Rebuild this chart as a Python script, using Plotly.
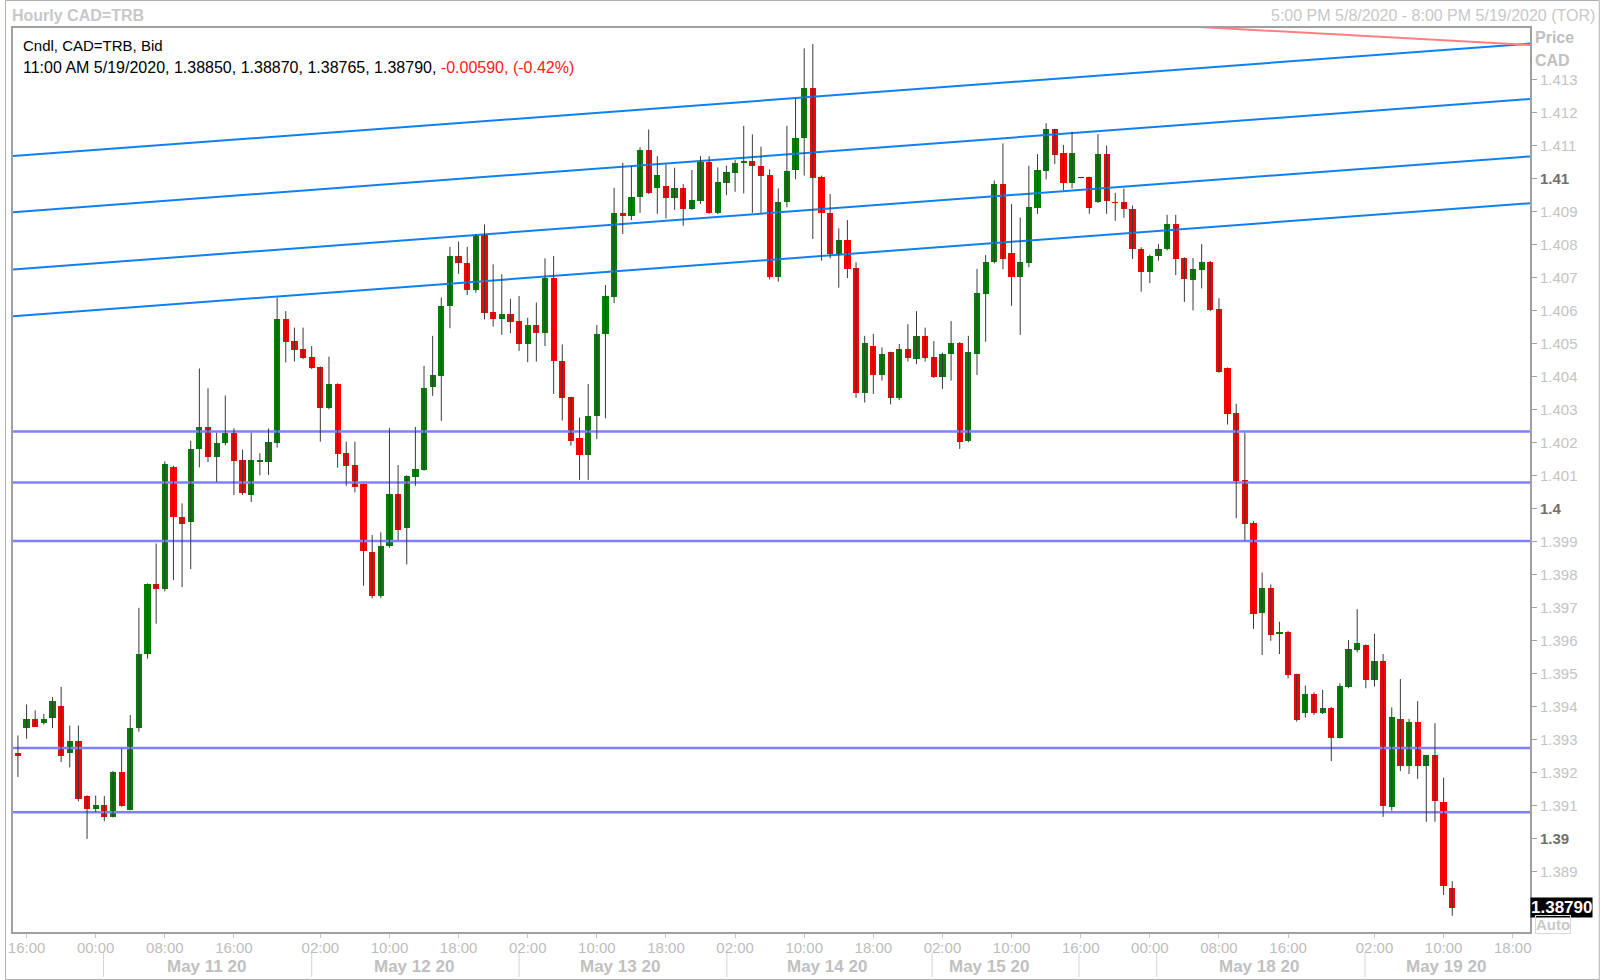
import plotly.graph_objects as go

# ---------------- data (hourly CAD=TRB candles, index = hourly slot, weekend gap removed) -------------
opens = [1.39258, 1.39334, 1.39361, 1.39350, 1.39366, 1.39402, 1.39258, 1.39296, 1.39128, 1.39090,
         1.39101, 1.39066, 1.39201, 1.39087, 1.39334, 1.39559, 1.39770, 1.39756, 1.40127, 1.39976,
         1.39960, 1.40181, 1.40247, 1.40157, 1.40200, 1.40230, 1.40146, 1.40041, 1.40141, 1.40142,
         1.40200, 1.40575, 1.40508, 1.40483, 1.40461, 1.40429, 1.40306, 1.40378, 1.40168, 1.40133,
         1.40074, 1.39867, 1.39735, 1.39887, 1.40044, 1.39940, 1.40097, 1.40117, 1.40370, 1.40403,
         1.40615, 1.40766, 1.40746, 1.40663, 1.40830, 1.40595, 1.40575, 1.40589, 1.40569, 1.40498,
         1.40557, 1.40532, 1.40700, 1.40448, 1.40337, 1.40213, 1.40163, 1.40282, 1.40529, 1.40643,
         1.40897, 1.40888, 1.40944, 1.41088, 1.40971, 1.40979, 1.40943, 1.40973, 1.40909, 1.40934,
         1.41050, 1.40897, 1.40989, 1.41019, 1.41047, 1.41054, 1.41040, 1.41012, 1.40703, 1.40929,
         1.41027, 1.41124, 1.41275, 1.41006, 1.40896, 1.40772, 1.40815, 1.40729, 1.40352, 1.40494,
         1.40405, 1.40474, 1.40336, 1.40483, 1.40453, 1.40524, 1.40459, 1.40398, 1.40468, 1.40503,
         1.40206, 1.40468, 1.40651, 1.40747, 1.40985, 1.40774, 1.40702, 1.40746, 1.40913, 1.41024,
         1.41150, 1.41080, 1.40988, 1.41004, 1.41005, 1.40929, 1.41075, 1.40930, 1.40930, 1.40909,
         1.40788, 1.40718, 1.40765, 1.40786, 1.40864, 1.40760, 1.40692, 1.40724, 1.40749, 1.40605,
         1.40426, 1.40290, 1.40086, 1.39955, 1.39682, 1.39758, 1.39619, 1.39627, 1.39497, 1.39379,
         1.39437, 1.39379, 1.39396, 1.39305, 1.39460, 1.39571, 1.39586, 1.39480, 1.39538, 1.39094,
         1.39362, 1.39220, 1.39354, 1.39220, 1.39253, 1.39111, 1.38850]
highs = [1.39312, 1.39406, 1.39388, 1.39377, 1.39428, 1.39459, 1.39342, 1.39342, 1.39130, 1.39130,
         1.39128, 1.39204, 1.39272, 1.39374, 1.39699, 1.39773, 1.39894, 1.40143, 1.40130, 1.40016,
         1.40206, 1.40425, 1.40365, 1.40230, 1.40343, 1.40244, 1.40179, 1.40230, 1.40168, 1.40243,
         1.40640, 1.40599, 1.40549, 1.40549, 1.40493, 1.40431, 1.40461, 1.40380, 1.40203, 1.40203,
         1.40076, 1.39920, 1.39928, 1.40244, 1.40132, 1.40101, 1.40248, 1.40433, 1.40524, 1.40640,
         1.40794, 1.40810, 1.40794, 1.40833, 1.40862, 1.40741, 1.40711, 1.40636, 1.40645, 1.40579,
         1.40625, 1.40759, 1.40766, 1.40498, 1.40339, 1.40276, 1.40378, 1.40557, 1.40678, 1.40973,
         1.41049, 1.41039, 1.41096, 1.41150, 1.41069, 1.41044, 1.41034, 1.40984, 1.41027, 1.41069,
         1.41069, 1.41035, 1.41040, 1.41057, 1.41161, 1.41135, 1.41098, 1.41029, 1.40971, 1.41161,
         1.41244, 1.41396, 1.41409, 1.41010, 1.40954, 1.40850, 1.40875, 1.40747, 1.40524, 1.40530,
         1.40489, 1.40476, 1.40499, 1.40559, 1.40599, 1.40549, 1.40508, 1.40473, 1.40569, 1.40505,
         1.40524, 1.40727, 1.40769, 1.40995, 1.41108, 1.40924, 1.40883, 1.41040, 1.41075, 1.41169,
         1.41152, 1.41103, 1.41143, 1.41006, 1.41007, 1.41136, 1.41101, 1.40958, 1.40971, 1.40919,
         1.40793, 1.40770, 1.40802, 1.40891, 1.40891, 1.40762, 1.40760, 1.40802, 1.40751, 1.40638,
         1.40428, 1.40318, 1.40230, 1.39962, 1.39806, 1.39770, 1.39657, 1.39629, 1.39499, 1.39463,
         1.39443, 1.39450, 1.39398, 1.39470, 1.39601, 1.39695, 1.39588, 1.39620, 1.39559, 1.39397,
         1.39483, 1.39362, 1.39416, 1.39253, 1.39349, 1.39184, 1.38870]
lows = [1.39186, 1.39302, 1.39339, 1.39345, 1.39334, 1.39231, 1.39215, 1.39112, 1.38998, 1.39079,
        1.39052, 1.39063, 1.39096, 1.39085, 1.39323, 1.39545, 1.39651, 1.39749, 1.39783, 1.39762,
        1.39816, 1.40125, 1.40141, 1.40081, 1.40192, 1.40041, 1.40041, 1.40020, 1.40101, 1.40102,
        1.40185, 1.40443, 1.40446, 1.40453, 1.40423, 1.40203, 1.40301, 1.40124, 1.40069, 1.40049,
        1.39766, 1.39728, 1.39728, 1.39881, 1.39905, 1.39831, 1.40069, 1.40115, 1.40342, 1.40266,
        1.40547, 1.40712, 1.40648, 1.40655, 1.40574, 1.40552, 1.40527, 1.40532, 1.40478, 1.40444,
        1.40446, 1.40493, 1.40348, 1.40267, 1.40191, 1.40087, 1.40087, 1.40211, 1.40274, 1.40623,
        1.40833, 1.40875, 1.40897, 1.40954, 1.40894, 1.40880, 1.40906, 1.40858, 1.40906, 1.40924,
        1.40894, 1.40893, 1.40951, 1.40961, 1.40956, 1.40897, 1.40897, 1.40695, 1.40688, 1.40914,
        1.40999, 1.41010, 1.40818, 1.40752, 1.40759, 1.40670, 1.40699, 1.40336, 1.40322, 1.40348,
        1.40388, 1.40316, 1.40329, 1.40446, 1.40438, 1.40446, 1.40396, 1.40363, 1.40388, 1.40181,
        1.40201, 1.40405, 1.40506, 1.40744, 1.40726, 1.40615, 1.40527, 1.40732, 1.40894, 1.40998,
        1.41045, 1.40966, 1.40971, 1.41002, 1.40894, 1.40927, 1.40894, 1.40873, 1.40882, 1.40757,
        1.40658, 1.40684, 1.40752, 1.40783, 1.40708, 1.40627, 1.40601, 1.40668, 1.40599, 1.40412,
        1.40255, 1.39971, 1.39904, 1.39635, 1.39556, 1.39599, 1.39559, 1.39485, 1.39354, 1.39366,
        1.39374, 1.39377, 1.39234, 1.39303, 1.39455, 1.39564, 1.39455, 1.39460, 1.39065, 1.39084,
        1.39204, 1.39195, 1.39180, 1.39050, 1.39050, 1.38828, 1.38765]
closes = [1.39249, 1.39361, 1.39339, 1.39361, 1.39415, 1.39249, 1.39296, 1.39120, 1.39090, 1.39101,
          1.39066, 1.39201, 1.39099, 1.39336, 1.39558, 1.39770, 1.39756, 1.40134, 1.39975, 1.39954,
          1.40182, 1.40247, 1.40157, 1.40200, 1.40230, 1.40144, 1.40047, 1.40146, 1.40146, 1.40203,
          1.40575, 1.40506, 1.40481, 1.40458, 1.40426, 1.40306, 1.40378, 1.40165, 1.40130, 1.40066,
          1.39871, 1.39735, 1.39887, 1.40044, 1.39935, 1.40099, 1.40119, 1.40365, 1.40405, 1.40615,
          1.40766, 1.40744, 1.40663, 1.40830, 1.40594, 1.40575, 1.40589, 1.40567, 1.40498, 1.40557,
          1.40532, 1.40700, 1.40448, 1.40336, 1.40206, 1.40163, 1.40282, 1.40530, 1.40645, 1.40897,
          1.40888, 1.40946, 1.41088, 1.40956, 1.41012, 1.40943, 1.40973, 1.40909, 1.40936, 1.41050,
          1.40897, 1.40991, 1.41020, 1.41049, 1.41054, 1.41039, 1.41010, 1.40702, 1.40929, 1.41025,
          1.41125, 1.41275, 1.41004, 1.40896, 1.40772, 1.40815, 1.40727, 1.40352, 1.40503, 1.40405,
          1.40468, 1.40336, 1.40483, 1.40458, 1.40524, 1.40458, 1.40398, 1.40468, 1.40503, 1.40201,
          1.40474, 1.40653, 1.40747, 1.40985, 1.40757, 1.40703, 1.40749, 1.40914, 1.41026, 1.41150,
          1.41073, 1.40988, 1.41080, 1.41004, 1.40913, 1.41075, 1.40934, 1.40928, 1.40909, 1.40786,
          1.40718, 1.40765, 1.40786, 1.40864, 1.40758, 1.40697, 1.40726, 1.40749, 1.40601, 1.40415,
          1.40287, 1.40084, 1.39952, 1.39681, 1.39758, 1.39617, 1.39627, 1.39495, 1.39359, 1.39437,
          1.39379, 1.39396, 1.39305, 1.39462, 1.39573, 1.39593, 1.39480, 1.39538, 1.39099, 1.39369,
          1.39220, 1.39354, 1.39220, 1.39253, 1.39114, 1.38855, 1.38790]

last_change = -0.00590
last_change_pct = -0.42
last_time = "11:00 AM 5/19/2020"

# time-axis labels (slot index -> label)
tick_idx = [1, 9, 17, 25, 35, 43, 51, 59, 67, 75, 83, 91, 99, 107, 115, 123, 131, 139, 147, 157, 165, 173]
tick_text = ["16:00", "00:00", "08:00", "16:00", "02:00", "10:00", "18:00", "02:00", "10:00", "18:00",
             "02:00", "10:00", "18:00", "02:00", "10:00", "16:00", "00:00", "08:00", "16:00", "02:00",
             "10:00", "18:00"]
day_sep_idx = [9.9, 34.0, 58.0, 82.05, 105.8, 122.8, 131.8, 155.9]
day_label_idx = [21.8, 45.8, 69.7, 93.6, 112.4, 143.6, 165.3]
day_labels = ["May 11 20", "May 12 20", "May 13 20", "May 14 20", "May 15 20", "May 18 20", "May 19 20"]

price_ticks = [1.388, 1.389, 1.390, 1.391, 1.392, 1.393, 1.394, 1.395, 1.396, 1.397, 1.398, 1.399, 1.400,
               1.401, 1.402, 1.403, 1.404, 1.405, 1.406, 1.407, 1.408, 1.409, 1.410, 1.411, 1.412, 1.413]
price_tick_text = ["1.388", "1.389", "1.39", "1.391", "1.392", "1.393", "1.394", "1.395", "1.396", "1.397",
                   "1.398", "1.399", "1.4", "1.401", "1.402", "1.403", "1.404", "1.405", "1.406", "1.407",
                   "1.408", "1.409", "1.41", "1.411", "1.412", "1.413"]
major_ticks = ["1.39", "1.4", "1.41"]

# drawn studies
support_levels = [1.40234, 1.40079, 1.39902, 1.39274, 1.39079]
channel_x = [-0.57, 175.0]
channel_start = [1.410692, 1.408990, 1.407255, 1.405836]
channel_end = [1.414104, 1.412423, 1.410683, 1.409263]
red_line_x = [100.0, 175.0]
red_line_y = [1.415130, 1.414061]

x_range = [-0.57, 175.0]
y_range = [1.387158, 1.414577]

# ---------------- figure -------------
W, H = 1600, 980
ML, MR, MT, MB = 8, 70, 28, 48
PW, PH = W - ML - MR, H - MT - MB
FONT = "Liberation Sans, Arial, sans-serif"


def px_x(px):
    return (px - ML) / PW


def px_y(py):
    return (H - MB - py) / PH


GREEN = "#008000"
RED = "#ff0000"
n = len(opens)
idx = list(range(n))

fig = go.Figure()

# horizontal support/resistance lines
for lv in support_levels:
    fig.add_trace(go.Scatter(x=x_range, y=[lv, lv], mode="lines",
                             line=dict(color="#8080ff", width=2.5), hoverinfo="skip"))
# parallel channel lines
for a, b in zip(channel_start, channel_end):
    fig.add_trace(go.Scatter(x=channel_x, y=[a, b], mode="lines",
                             line=dict(color="#1080f0", width=2), hoverinfo="skip"))
fig.add_trace(go.Scatter(x=red_line_x, y=red_line_y, mode="lines",
                         line=dict(color="#ff8080", width=2), hoverinfo="skip"))

# wicks
wx, wy = [], []
for i in idx:
    wx += [i, i, None]
    wy += [lows[i], highs[i], None]
fig.add_trace(go.Scatter(x=wx, y=wy, mode="lines", line=dict(color="#3a3a3a", width=1),
                         hoverinfo="skip"))

# bodies
bases, heights, colors = [], [], []
for o, c in zip(opens, closes):
    bases.append(min(o, c))
    d = abs(c - o)
    heights.append(max(d, 0.000022))
    if d < 0.00001:
        colors.append("#303030")
    else:
        colors.append(GREEN if c > o else RED)
fig.add_trace(go.Bar(x=idx, y=heights, base=bases, width=0.72,
                     marker=dict(color=colors, line=dict(width=0)), hoverinfo="skip"))

# ---------------- annotations -------------
ann = []
ann.append(dict(text="<b>Hourly CAD=TRB</b>", xref="paper", yref="paper", x=px_x(5), y=px_y(15),
                xanchor="left", yanchor="middle", showarrow=False,
                font=dict(family=FONT, size=16, color="#c8c8c8")))
ann.append(dict(text="5:00 PM 5/8/2020 - 8:00 PM 5/19/2020 (TOR)", xref="paper", yref="paper",
                x=px_x(1597), y=px_y(15), xanchor="right", yanchor="middle", showarrow=False,
                font=dict(family=FONT, size=16, color="#c8c8c8")))
ann.append(dict(text="Cndl, CAD=TRB, Bid", xref="paper", yref="paper", x=px_x(16), y=px_y(46),
                xanchor="left", yanchor="middle", showarrow=False,
                font=dict(family=FONT, size=15, color="#000000")))
line2 = (f"{last_time}, {opens[-1]:.5f}, {highs[-1]:.5f}, {lows[-1]:.5f}, {closes[-1]:.5f}, "
         f"<span style='color:#ff2020'>{last_change:.5f}, ({last_change_pct:.2f}%)</span>")
ann.append(dict(text=line2, xref="paper", yref="paper", x=px_x(16), y=px_y(67),
                xanchor="left", yanchor="middle", showarrow=False,
                font=dict(family=FONT, size=16, color="#000000")))
ann.append(dict(text="<b>Price</b>", xref="paper", yref="paper", x=px_x(1533), y=px_y(38),
                xanchor="left", yanchor="middle", showarrow=False,
                font=dict(family=FONT, size=16, color="#c0c0c0")))
ann.append(dict(text="<b>CAD</b>", xref="paper", yref="paper", x=px_x(1533), y=px_y(60),
                xanchor="left", yanchor="middle", showarrow=False,
                font=dict(family=FONT, size=16, color="#c0c0c0")))
ann.append(dict(text=f"<b>{closes[-1]:.5f}</b>", xref="paper", yref="y", x=1.0, y=closes[-1],
                xanchor="left", yanchor="middle", showarrow=False, bgcolor="#000000", borderpad=0,
                font=dict(family=FONT, size=17, color="#ffffff")))
ann.append(dict(text="<b>Auto</b>", xref="paper", yref="paper", x=px_x(1535), y=px_y(924),
                xanchor="left", yanchor="middle", showarrow=False, bordercolor="#d8d8d8",
                borderwidth=1, borderpad=0,
                font=dict(family=FONT, size=15, color="#c8c8c8")))
for xi, lab in zip(day_label_idx, day_labels):
    ann.append(dict(text=f"<b>{lab}</b>", xref="x", yref="paper", x=xi, y=px_y(966),
                    xanchor="center", yanchor="middle", showarrow=False,
                    font=dict(family=FONT, size=17, color="#c0c0c0")))

shapes = []
for s in day_sep_idx:
    shapes.append(dict(type="line", xref="x", yref="paper", x0=s, x1=s, y0=px_y(953), y1=px_y(977),
                       line=dict(color="#d4d4d4", width=1)))
shapes.append(dict(type="rect", xref="paper", yref="paper", x0=px_x(0.5), x1=px_x(1599.5),
                   y0=px_y(979.5), y1=px_y(0.5), line=dict(color="#b0b0b0", width=1)))

ytext = [f"<b><span style='color:#707070'>{t}</span></b>" if t in major_ticks else t
         for t in price_tick_text]

fig.update_layout(
    width=W, height=H, autosize=False,
    margin=dict(l=ML, r=MR, t=MT, b=MB),
    paper_bgcolor="#ffffff", plot_bgcolor="#ffffff",
    showlegend=False, hovermode=False, bargap=0,
    annotations=ann, shapes=shapes,
    xaxis=dict(range=x_range, tickmode="array", tickvals=tick_idx, ticktext=tick_text,
               ticks="outside", ticklen=4, tickcolor="#c8c8c8", tickwidth=1,
               tickfont=dict(family=FONT, size=15, color="#bdbdbd"),
               showgrid=False, zeroline=False, showline=True, mirror=True,
               linecolor="#a0a0a0", linewidth=2, fixedrange=True),
    yaxis=dict(range=y_range, side="right", tickmode="array", tickvals=price_ticks, ticktext=ytext,
               ticks="outside", ticklen=5, tickcolor="#a0a0a0", tickwidth=1,
               tickfont=dict(family=FONT, size=15, color="#c4c4c4"),
               showgrid=False, zeroline=False, showline=True, mirror=True,
               linecolor="#a0a0a0", linewidth=2, fixedrange=True),
)
try:
    fig.update_xaxes(ticklabelstandoff=-3)
except Exception:
    pass

post = ("document.documentElement.style.margin='0px';"
        "document.body.style.margin='0px';document.body.style.padding='0px';"
        "document.body.style.overflow='hidden';"
        "var gd=document.getElementById('{plot_id}');"
        "gd.style.position='absolute';gd.style.left='0px';gd.style.top='0px';")
fig.write_html("out.html", config={"displayModeBar": False, "staticPlot": True}, post_script=post)
